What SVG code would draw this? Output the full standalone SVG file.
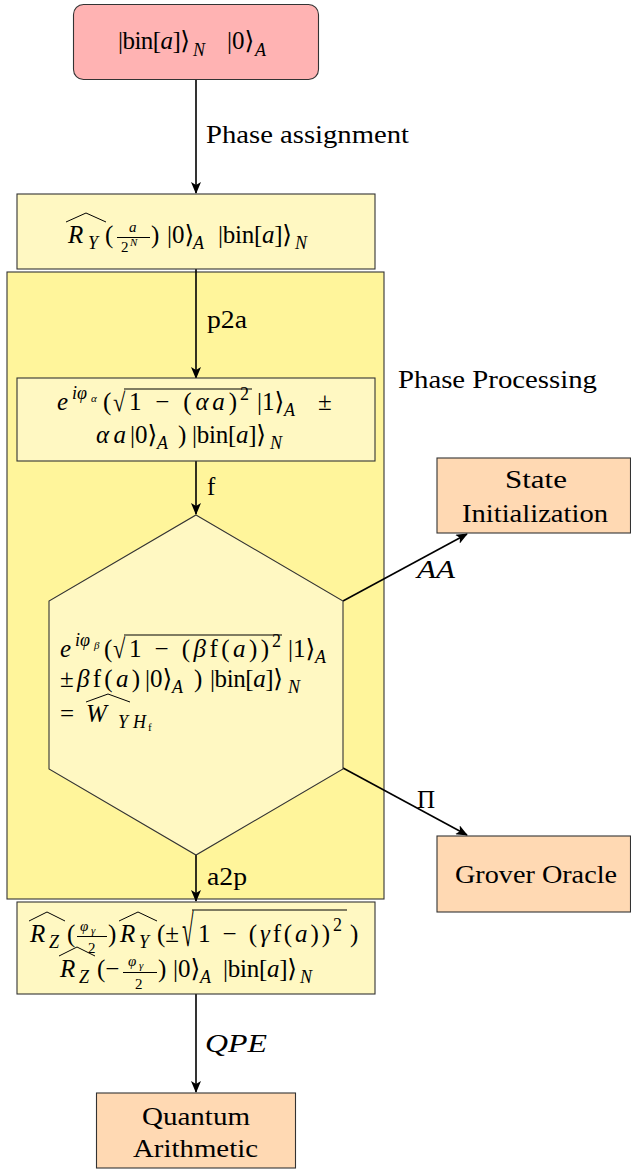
<svg xmlns="http://www.w3.org/2000/svg" width="631" height="1169" viewBox="0 0 631 1169">
<defs>
<style>
.box{stroke:#333;stroke-width:1.1}
.red{fill:#ffb3b3}
.yel{fill:#fff8c2}
.big{fill:#fff59b}
.org{fill:#ffd9b3}
.lbl{font-family:'Liberation Serif','DejaVu Serif',serif;font-size:25px;fill:#000}
.m{font-family:'Liberation Serif','DejaVu Serif',serif;font-size:25px;fill:#000}
.i{font-style:italic}
.s{font-size:18px}
.f{font-size:15px}
.ss{font-size:11px}
.acc{fill:none;stroke:#000;stroke-width:1}
.bar{stroke:#000;stroke-width:1}
.edge{fill:none;stroke:#000;stroke-width:1.6}
</style>
<marker id="ah" viewBox="0 0 12 10" refX="11" refY="5" markerWidth="12" markerHeight="10" markerUnits="userSpaceOnUse" orient="auto">
<path d="M0,0 L12,5 L0,10 L3,5 z" fill="#000"/>
</marker>
</defs>
<rect width="631" height="1169" fill="#fff"/>

<g id="phase-processing">
<rect class="box big" x="7" y="272" width="377" height="627"/>
<text class="lbl" x="398" y="388" textLength="199" lengthAdjust="spacingAndGlyphs">Phase Processing</text>
</g>

<g id="connectors">
<line class="edge" x1="196" y1="80" x2="196" y2="193" marker-end="url(#ah)"/>
<line class="edge" x1="196" y1="269" x2="196" y2="378" marker-end="url(#ah)"/>
<line class="edge" x1="196" y1="461" x2="196" y2="514" marker-end="url(#ah)"/>
<line class="edge" x1="196" y1="855" x2="196" y2="901" marker-end="url(#ah)"/>
<line class="edge" x1="196" y1="994" x2="196" y2="1092" marker-end="url(#ah)"/>
<line class="edge" x1="343" y1="601" x2="467" y2="534" marker-end="url(#ah)"/>
<line class="edge" x1="343" y1="768" x2="467" y2="835" marker-end="url(#ah)"/>
<text class="lbl" x="206" y="143" textLength="203" lengthAdjust="spacingAndGlyphs">Phase assignment</text>
<text class="lbl" x="207" y="328" textLength="40" lengthAdjust="spacingAndGlyphs">p2a</text>
<text class="lbl" x="207" y="495">f</text>
<text class="lbl" x="207" y="885" textLength="40" lengthAdjust="spacingAndGlyphs">a2p</text>
<text class="lbl i" x="205" y="1052" textLength="62" lengthAdjust="spacingAndGlyphs">QPE</text>
<text class="lbl i" x="417" y="578" textLength="38" lengthAdjust="spacingAndGlyphs">AA</text>
<text class="lbl" x="417" y="808">Π</text>
</g>

<g id="n1">
<rect class="box red" x="73.5" y="4.5" width="245" height="75" rx="10"/>
<text class="m" x="118" y="49" textLength="72" lengthAdjust="spacing">|bin[<tspan class="i">a</tspan>]⟩</text>
<text class="m s i" x="193" y="56">N</text>
<text class="m" x="227" y="49">|0⟩</text>
<text class="m s i" x="255" y="56">A</text>
</g>

<g id="n2">
<rect class="box yel" x="17" y="194" width="358" height="75"/>
<path class="acc" d="M66,222 L86,213 L106,222"/>
<text class="m i" x="68" y="243">R</text>
<text class="m s i" x="88" y="249">Y</text>
<text class="m" x="105" y="243">(</text>
<text class="m f i" x="129" y="232">a</text>
<line class="bar" x1="117" y1="237.5" x2="150" y2="237.5"/>
<text class="m f" x="121" y="252">2</text>
<text class="m ss i" x="130" y="246">N</text>
<text class="m" x="151" y="243">)</text>
<text class="m" x="167" y="243">|0⟩</text>
<text class="m s i" x="193" y="249">A</text>
<text class="m" x="218" y="243" textLength="74" lengthAdjust="spacing">|bin[<tspan class="i">a</tspan>]⟩</text>
<text class="m s i" x="295" y="249">N</text>
</g>

<g id="n3">
<rect class="box yel" x="17" y="378" width="358" height="83"/>
<text class="m i" x="57" y="410">e</text>
<text class="m s i" x="72" y="399">iφ</text>
<text class="m ss i" x="91" y="402">α</text>
<text class="m" x="103" y="410">(</text>
<text class="m" transform="translate(113,411) scale(0.9,1.05)">√</text>
<line class="bar" x1="124" y1="389" x2="252" y2="389"/>
<text class="m" x="129" y="410" textLength="108" lengthAdjust="spacing">1 − (<tspan class="i">αa</tspan>)</text>
<text class="m s" x="240" y="400">2</text>
<text class="m" x="257" y="410">|1⟩</text>
<text class="m s i" x="284" y="416">A</text>
<text class="m" x="318" y="410">±</text>
<text class="m i" x="96" y="443" textLength="30" lengthAdjust="spacing">αa</text>
<text class="m" x="130" y="443">|0⟩</text>
<text class="m s i" x="157" y="449">A</text>
<text class="m" x="178" y="443">)</text>
<text class="m" x="192" y="443" textLength="74" lengthAdjust="spacing">|bin[<tspan class="i">a</tspan>]⟩</text>
<text class="m s i" x="270" y="449">N</text>
</g>

<g id="n4">
<polygon class="box yel" points="196,515 343,601 343,769 196,855 49,769 49,601"/>
<text class="m i" x="60" y="657">e</text>
<text class="m s i" x="75" y="646">iφ</text>
<text class="m ss i" x="94" y="649">β</text>
<text class="m" x="104" y="657">(</text>
<text class="m" transform="translate(113,658) scale(0.9,1.1)">√</text>
<line class="bar" x1="124" y1="635" x2="282" y2="635"/>
<text class="m" x="129" y="657" textLength="140" lengthAdjust="spacing">1 − (<tspan class="i">β</tspan>f(<tspan class="i">a</tspan>))</text>
<text class="m s" x="272" y="647">2</text>
<text class="m" x="288" y="657">|1⟩</text>
<text class="m s i" x="315" y="663">A</text>
<text class="m" x="60" y="687" textLength="80" lengthAdjust="spacing">±<tspan class="i">β</tspan>f(<tspan class="i">a</tspan>)</text>
<text class="m" x="145" y="687">|0⟩</text>
<text class="m s i" x="172" y="693">A</text>
<text class="m" x="194" y="687">)</text>
<text class="m" x="210" y="687" textLength="73" lengthAdjust="spacing">|bin[<tspan class="i">a</tspan>]⟩</text>
<text class="m s i" x="288" y="693">N</text>
<text class="m" x="60" y="722">=</text>
<path class="acc" d="M86,702 L108,694 L130,702"/>
<text class="m i" x="86" y="722">W</text>
<text class="m s i" x="118" y="728">Y</text>
<text class="m s i" x="133" y="728">H</text>
<text class="m ss" x="148" y="731">f</text>
</g>

<g id="n5">
<rect class="box yel" x="17" y="902" width="358" height="92"/>
<path class="acc" d="M29,921 L47,912 L65,921"/>
<text class="m i" x="30" y="942">R</text>
<text class="m s i" x="49" y="948">Z</text>
<text class="m" x="67" y="942">(</text>
<text class="m f i" x="80" y="931">φ</text>
<text class="m ss i" x="91" y="934">γ</text>
<line class="bar" x1="77" y1="936.5" x2="107" y2="936.5"/>
<text class="m f" x="88" y="953">2</text>
<text class="m" x="108" y="942">)</text>
<path class="acc" d="M119,921 L138,912 L157,921"/>
<text class="m i" x="120" y="942">R</text>
<text class="m s i" x="139" y="948">Y</text>
<text class="m" x="157" y="942">(±</text>
<text class="m" transform="translate(182,946) scale(0.85,1.8)">√</text>
<line class="bar" x1="192" y1="910" x2="347" y2="910"/>
<text class="m" x="198" y="942" textLength="132" lengthAdjust="spacing">1 − (<tspan class="i">γ</tspan>f(<tspan class="i">a</tspan>))</text>
<text class="m s" x="333" y="931">2</text>
<text class="m" x="350" y="942">)</text>
<path class="acc" d="M59,956 L77,947 L95,956"/>
<text class="m i" x="60" y="977">R</text>
<text class="m s i" x="79" y="983">Z</text>
<text class="m" x="97" y="977">(−</text>
<text class="m f i" x="128" y="966">φ</text>
<text class="m ss i" x="139" y="969">γ</text>
<line class="bar" x1="123" y1="972.5" x2="157" y2="972.5"/>
<text class="m f" x="135" y="989">2</text>
<text class="m" x="158" y="977">)</text>
<text class="m" x="173" y="977">|0⟩</text>
<text class="m s i" x="200" y="983">A</text>
<text class="m" x="223" y="977" textLength="74" lengthAdjust="spacing">|bin[<tspan class="i">a</tspan>]⟩</text>
<text class="m s i" x="300" y="983">N</text>
</g>

<g id="n6">
<rect class="box org" x="437" y="458" width="193.5" height="75"/>
<text class="lbl" x="505" y="488" textLength="62" lengthAdjust="spacingAndGlyphs">State</text>
<text class="lbl" x="462" y="522" textLength="146" lengthAdjust="spacingAndGlyphs">Initialization</text>
</g>

<g id="n7">
<rect class="box org" x="437" y="836" width="193.5" height="76"/>
<text class="lbl" x="455" y="883" textLength="162" lengthAdjust="spacingAndGlyphs">Grover Oracle</text>
</g>

<g id="n8">
<rect class="box org" x="96.5" y="1093" width="199" height="75"/>
<text class="lbl" x="142" y="1125" textLength="108" lengthAdjust="spacingAndGlyphs">Quantum</text>
<text class="lbl" x="133" y="1157" textLength="125" lengthAdjust="spacingAndGlyphs">Arithmetic</text>
</g>
</svg>
